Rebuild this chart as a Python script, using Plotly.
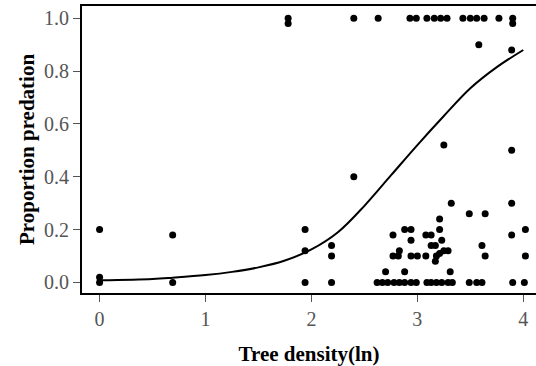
import plotly.graph_objects as go

# Observed points: tree density (ln) vs proportion predation
obs_x = [0.00, 0.00, 0.00, 0.69, 0.69,
         1.78, 1.78,
         1.94, 1.94, 1.94,
         2.19, 2.19, 2.19,
         2.40, 2.40, 2.63,
         2.93, 2.99, 3.09, 3.16, 3.22, 3.28, 3.43, 3.50, 3.56, 3.63, 3.77, 3.90, 3.90,
         3.58, 3.89,
         3.25, 3.89,
         3.32, 3.89,
         3.49, 3.64,
         3.21,
         2.88, 2.94, 3.21, 4.02,
         2.77, 3.08, 3.13, 3.89,
         2.94, 3.23,
         3.13, 3.17, 3.61,
         2.83, 3.25, 3.29,
         2.77, 2.82, 2.94, 3.00, 3.08, 3.18, 3.21, 3.64, 4.02,
         3.17,
         2.70, 2.88, 3.31,
         2.62, 2.67, 2.72, 2.78, 2.83, 2.88, 2.94, 2.99, 3.09, 3.13, 3.18, 3.23,
         3.29, 3.33, 3.49, 3.56, 3.61, 3.90, 4.01]
obs_y = [0.20, 0.02, 0.00, 0.18, 0.00,
         1.00, 0.98,
         0.20, 0.12, 0.00,
         0.14, 0.10, 0.00,
         1.00, 0.40, 1.00,
         1.00, 1.00, 1.00, 1.00, 1.00, 1.00, 1.00, 1.00, 1.00, 1.00, 1.00, 1.00, 0.98,
         0.90, 0.88,
         0.52, 0.50,
         0.30, 0.30,
         0.26, 0.26,
         0.24,
         0.20, 0.20, 0.20, 0.20,
         0.18, 0.18, 0.18, 0.18,
         0.16, 0.16,
         0.14, 0.14, 0.14,
         0.12, 0.12, 0.12,
         0.10, 0.10, 0.10, 0.10, 0.10, 0.10, 0.11, 0.10, 0.10,
         0.08,
         0.04, 0.04, 0.04,
         0.00, 0.00, 0.00, 0.00, 0.00, 0.00, 0.00, 0.00, 0.00, 0.00, 0.00, 0.00,
         0.00, 0.00, 0.00, 0.00, 0.00, 0.00, 0.00]

# Fitted curve
curve_x = [0.00, 0.50, 0.69, 1.00, 1.25, 1.50, 1.75, 2.00, 2.25, 2.50, 2.75, 3.00, 3.25, 3.50, 3.75, 4.00]
curve_y = [0.008, 0.013, 0.018, 0.028, 0.040, 0.057, 0.083, 0.125, 0.190, 0.290, 0.405, 0.520, 0.630, 0.735, 0.815, 0.880]

x_ticks = [0, 1, 2, 3, 4]
y_ticks = [0.0, 0.2, 0.4, 0.6, 0.8, 1.0]
y_tick_labels = ["0.0", "0.2", "0.4", "0.6", "0.8", "1.0"]

serif = "Liberation Serif, Times New Roman, serif"

fig = go.Figure()
fig.add_trace(go.Scatter(x=curve_x, y=curve_y, mode="lines",
                         line=dict(color="black", width=2, shape="spline", smoothing=1.0),
                         showlegend=False, hoverinfo="skip"))
fig.add_trace(go.Scatter(x=obs_x, y=obs_y, mode="markers",
                         marker=dict(color="black", size=7),
                         showlegend=False))

fig.update_layout(
    width=536, height=366,
    margin=dict(l=82, r=0, t=6, b=73),
    paper_bgcolor="white", plot_bgcolor="white",
    font=dict(family=serif, color="#222"),
    xaxis=dict(range=[-0.166, 4.12], tickvals=x_ticks, ticks="outside", ticklen=7,
               tickcolor="#555", tickwidth=1, showline=True, linecolor="black", linewidth=2,
               mirror=True, showgrid=False, zeroline=False,
               tickfont=dict(size=20, family=serif, color="#555"),
               title=dict(text="<b>Tree density(ln)</b>", font=dict(size=21, family=serif, color="black"),
                          standoff=17)),
    yaxis=dict(range=[-0.040, 1.0465], tickvals=y_ticks, ticktext=y_tick_labels, ticks="outside",
               ticklen=7, tickcolor="#555", tickwidth=1, showline=True, linecolor="black",
               linewidth=2, showgrid=False, zeroline=False,
               tickfont=dict(size=20, family=serif, color="#555"),
               title=dict(text="<b>Proportion predation</b>", font=dict(size=21, family=serif, color="black"),
                          standoff=4)),
)

fig.write_html("out.html")
